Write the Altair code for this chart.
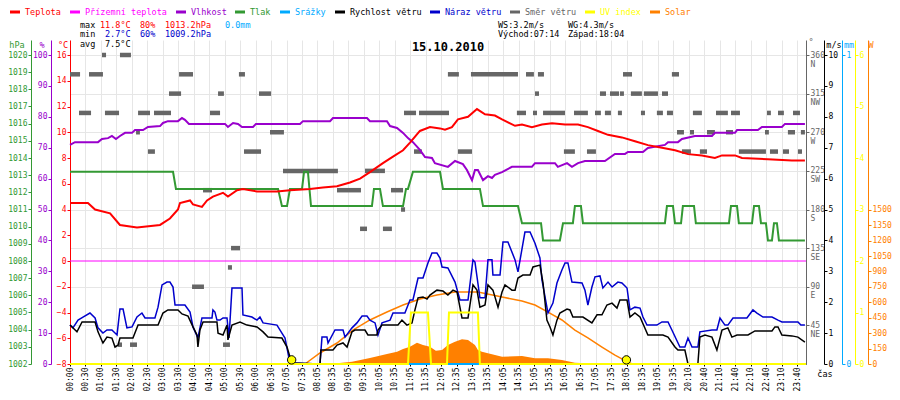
import json
import altair as alt
import pandas as pd

MONO = "DejaVu Sans Mono"

# ---------------- data (x = position among the time slots of the axis) ----------------
TIME_LABELS = ["00:00", "00:30", "01:00", "01:30", "02:00", "02:30", "03:00", "03:30",
               "04:00", "04:30", "05:00", "05:30", "06:00", "06:30", "07:05", "07:35",
               "08:05", "08:35", "09:05", "09:35", "10:05", "10:35", "11:05", "11:35",
               "12:05", "12:35", "13:05", "13:35", "14:05", "14:35", "15:05", "15:35",
               "16:05", "16:35", "17:05", "17:35", "18:05", "18:35", "19:05", "19:35",
               "20:10", "20:40", "21:10", "21:40", "22:10", "22:40", "23:10", "23:40"]
X_MAX = 47.58

TEMP = [(0.00, 4.5), (1.16, 4.5), (1.62, 4.0), (2.59, 3.7), (3.23, 2.8), (4.33, 2.6), (5.82, 2.8),
        (6.46, 3.3), (6.98, 4.0), (7.11, 4.5), (7.76, 4.7), (7.95, 4.4), (8.53, 4.2), (8.86, 4.7),
        (9.24, 5.0), (9.89, 5.3), (10.21, 5.0), (10.80, 5.5), (11.18, 5.6), (12.09, 5.4), (13.38, 5.4),
        (14.22, 5.5), (15.51, 5.6), (16.35, 5.7), (17.26, 5.8), (18.10, 6.1), (18.75, 6.4), (19.39, 6.9),
        (20.23, 7.6), (20.88, 8.1), (21.53, 8.6), (21.98, 9.2), (22.62, 10.1), (23.27, 10.4),
        (23.92, 10.3), (24.24, 10.2), (24.69, 10.4), (25.08, 11.0), (25.73, 11.2), (26.31, 11.8),
        (26.83, 11.4), (27.47, 11.3), (27.93, 11.0), (28.77, 10.5), (29.22, 10.6), (29.86, 10.4),
        (30.51, 10.6), (31.16, 10.7), (32.00, 10.6), (32.84, 10.6), (33.48, 10.4), (34.13, 10.1),
        (34.78, 9.8), (35.68, 9.6), (36.52, 9.3), (37.36, 9.0), (38.27, 8.8), (39.11, 8.6),
        (39.95, 8.3), (40.85, 8.2), (41.69, 8.0), (42.15, 8.2), (42.99, 8.2), (43.44, 8.0),
        (45.12, 7.9), (46.67, 7.8), (47.51, 7.8)]

GROUND_TEMP = [(0.00, 0.0), (X_MAX, 0.0)]

HUMIDITY = [(0.00, 70.9), (0.32, 71.8), (1.81, 71.8), (2.07, 72.8), (2.46, 73.1), (2.71, 73.8),
            (2.97, 72.8), (3.23, 73.8), (3.56, 74.8), (4.01, 74.8), (4.20, 75.7), (4.72, 75.7),
            (5.04, 76.7), (5.82, 77.0), (6.01, 78.0), (6.33, 78.6), (6.98, 78.6), (7.24, 79.6),
            (7.43, 79.0), (7.69, 77.7), (10.02, 77.7), (10.21, 76.7), (10.54, 78.0), (10.86, 77.7),
            (11.12, 76.7), (11.83, 76.7), (12.02, 77.7), (14.87, 77.7), (15.06, 78.6), (16.81, 78.6),
            (17.00, 79.6), (19.20, 79.6), (19.39, 78.6), (20.49, 78.6), (20.69, 77.0), (21.14, 76.4),
            (21.53, 74.8), (21.85, 73.1), (22.17, 71.8), (22.62, 69.3), (22.95, 67.0), (23.40, 66.7),
            (23.59, 65.0), (24.43, 63.8), (24.89, 65.7), (25.40, 64.7), (25.66, 62.8), (25.99, 59.5),
            (26.18, 62.8), (26.37, 62.8), (26.70, 59.5), (27.02, 60.8), (27.28, 60.2), (27.47, 61.2),
            (27.93, 62.1), (28.57, 63.8), (29.86, 63.8), (30.06, 65.0), (31.35, 65.0), (31.54, 63.8),
            (32.13, 65.0), (32.45, 63.8), (32.84, 65.0), (33.29, 65.7), (34.58, 65.7), (35.23, 68.0),
            (35.88, 68.0), (36.07, 68.6), (37.04, 68.6), (37.36, 69.9), (38.46, 70.9), (38.66, 71.8),
            (39.30, 71.8), (39.56, 72.8), (40.40, 73.8), (41.50, 73.8), (41.69, 74.8), (42.99, 74.8),
            (43.12, 75.7), (44.47, 75.7), (44.73, 76.7), (46.02, 76.7), (46.22, 77.7), (47.51, 77.7)]

PRESSURE = [(0.00, 1013.2), (6.66, 1013.2), (6.85, 1012.2), (13.45, 1012.2), (13.70, 1011.2),
            (14.03, 1011.2), (14.22, 1012.2), (15.00, 1012.2), (15.13, 1013.2), (15.38, 1013.2),
            (15.58, 1011.2), (19.52, 1011.2), (19.65, 1012.2), (20.04, 1012.2), (20.23, 1011.2),
            (21.53, 1011.2), (21.72, 1012.2), (21.85, 1012.2), (22.17, 1013.2), (23.92, 1013.2),
            (24.11, 1012.2), (26.50, 1012.2), (26.70, 1011.2), (28.96, 1011.2), (29.22, 1010.2),
            (30.45, 1010.2), (30.58, 1009.2), (31.67, 1009.2), (31.87, 1010.2), (32.51, 1010.2),
            (32.64, 1011.2), (33.03, 1011.2), (33.16, 1010.2), (38.46, 1010.2), (38.59, 1011.2),
            (38.98, 1011.2), (39.11, 1010.2), (39.50, 1010.2), (39.62, 1011.2), (40.34, 1011.2),
            (40.46, 1010.2), (42.60, 1010.2), (42.73, 1011.2), (43.12, 1011.2), (43.24, 1010.2),
            (44.09, 1010.2), (44.22, 1011.2), (44.54, 1011.2), (44.67, 1010.2), (44.99, 1010.2),
            (45.12, 1009.2), (45.38, 1009.2), (45.51, 1010.2), (45.70, 1010.2), (45.83, 1009.2),
            (47.51, 1009.2)]

RAIN = [(0.00, 0.0), (X_MAX, 0.0)]

WIND = [(0.00, 1.26), (0.45, 1.04), (0.78, 1.36), (1.62, 1.36), (1.81, 1.04), (2.13, 0.68), (2.39, 0.87),
        (2.71, 0.84), (2.91, 0.55), (3.10, 0.61), (3.23, 0.84), (4.07, 0.84), (4.40, 1.26), (5.69, 1.26),
        (6.01, 1.65), (6.33, 1.75), (6.98, 1.75), (7.24, 1.62), (7.63, 1.55), (7.95, 1.20), (8.21, 0.94),
        (8.27, 0.55), (8.40, 1.10), (8.60, 1.36), (9.50, 1.36), (9.57, 1.00), (9.89, 0.94), (10.15, 1.26),
        (10.21, 0.78), (10.47, 1.26), (10.99, 1.36), (11.44, 1.26), (12.09, 1.20), (12.48, 1.04),
        (12.80, 0.87), (13.70, 0.84), (14.03, 0.55), (14.22, 0.23), (14.35, 0.03), (16.16, 0.0),
        (16.22, 0.45), (17.00, 0.45), (17.26, 0.61), (17.65, 0.68), (17.91, 0.55), (18.23, 1.04),
        (18.42, 1.10), (19.07, 1.10), (19.26, 0.94), (19.84, 0.94), (19.91, 1.10), (20.17, 1.26),
        (21.20, 1.26), (21.46, 1.42), (21.78, 1.26), (22.11, 1.33), (22.30, 1.75), (22.50, 2.14),
        (22.82, 2.17), (23.08, 2.10), (23.27, 2.23), (23.72, 2.39), (24.11, 2.36), (24.43, 2.23),
        (24.76, 2.39), (25.02, 2.33), (25.34, 1.49), (25.73, 1.49), (26.05, 2.56), (26.31, 2.39),
        (26.50, 1.84), (26.83, 1.91), (27.02, 2.56), (27.34, 2.39), (27.67, 1.84), (27.93, 2.33),
        (28.12, 2.56), (28.57, 2.39), (28.77, 2.39), (28.96, 2.78), (29.28, 2.88), (29.74, 2.88),
        (29.93, 3.14), (30.38, 3.20), (30.58, 2.62), (30.83, 1.42), (31.03, 1.20), (31.22, 0.94),
        (31.48, 1.42), (31.67, 1.65), (32.13, 1.78), (32.32, 1.75), (32.51, 1.52), (33.16, 1.52),
        (33.74, 1.33), (34.07, 1.59), (34.39, 1.59), (34.71, 1.91), (35.04, 1.97), (35.36, 1.81),
        (35.55, 2.07), (36.01, 2.07), (36.20, 1.52), (36.52, 1.65), (36.85, 1.52), (37.36, 0.94),
        (38.33, 0.94), (38.66, 0.87), (39.11, 0.55), (39.30, 0.45), (39.75, 0.45), (39.95, 0.0),
        (40.59, 0.0), (40.72, 0.87), (41.05, 0.94), (41.50, 0.87), (41.82, 0.45), (42.15, 1.10),
        (42.53, 1.17), (42.79, 0.87), (43.12, 0.94), (43.83, 0.94), (44.28, 1.07), (45.38, 1.07),
        (45.57, 1.20), (45.77, 1.20), (46.02, 0.94), (46.67, 0.91), (47.06, 0.87), (47.51, 0.71)]

GUST = [(0.00, 1.26), (0.19, 1.17), (0.52, 1.42), (0.84, 1.52), (1.29, 1.65), (1.62, 1.49), (1.81, 1.17),
        (2.13, 1.00), (2.39, 1.10), (2.71, 1.10), (3.04, 0.94), (3.23, 1.78), (3.43, 1.78), (3.68, 1.17),
        (4.01, 1.20), (4.33, 1.52), (4.65, 1.65), (4.85, 1.49), (5.49, 1.49), (5.69, 1.84), (5.95, 2.56),
        (6.27, 2.65), (6.46, 2.65), (6.66, 2.49), (6.79, 1.91), (7.43, 1.91), (7.76, 1.68), (7.95, 1.20),
        (8.27, 0.84), (8.53, 1.49), (9.18, 1.49), (9.24, 1.75), (9.37, 1.68), (9.50, 1.42), (9.70, 1.42),
        (9.89, 1.49), (10.15, 1.49), (10.28, 0.84), (10.47, 2.46), (11.12, 2.46), (11.18, 1.59),
        (11.76, 1.52), (12.09, 1.42), (12.28, 1.52), (12.48, 1.33), (13.38, 1.26), (13.70, 1.00),
        (13.90, 0.84), (14.09, 0.36), (14.22, 0.06), (14.35, 0.03), (16.16, 0.0), (16.29, 0.87),
        (16.61, 0.87), (16.68, 0.68), (17.13, 1.10), (17.65, 1.10), (17.78, 0.87), (18.23, 1.17),
        (18.55, 1.33), (18.88, 1.55), (19.20, 1.55), (19.39, 1.42), (19.72, 1.33), (19.91, 0.94),
        (20.17, 1.33), (20.69, 1.42), (20.88, 1.65), (21.65, 1.65), (21.98, 2.07), (22.17, 2.07),
        (22.50, 2.78), (22.82, 2.78), (23.14, 3.27), (23.40, 3.59), (23.72, 3.59), (23.92, 3.43),
        (24.05, 3.14), (24.43, 3.11), (24.89, 2.65), (25.21, 2.07), (25.73, 2.07), (26.05, 3.37),
        (26.18, 3.30), (26.50, 2.14), (26.83, 2.14), (27.02, 3.37), (27.28, 3.37), (27.34, 2.88),
        (27.80, 2.88), (27.99, 3.95), (28.31, 3.95), (28.77, 3.37), (28.96, 2.98), (29.41, 4.27),
        (29.74, 4.27), (30.06, 3.91), (30.38, 3.43), (30.51, 2.72), (30.90, 1.65), (31.22, 1.97),
        (31.48, 2.62), (31.80, 3.04), (32.00, 3.27), (32.19, 3.27), (32.45, 2.65), (33.10, 2.62),
        (33.29, 2.39), (33.48, 1.91), (33.74, 2.49), (33.94, 2.82), (34.26, 2.85), (34.45, 2.46),
        (34.78, 2.65), (35.04, 2.49), (35.42, 2.65), (35.68, 2.62), (36.01, 2.46), (36.20, 1.75),
        (36.52, 1.84), (36.85, 1.81), (37.04, 1.52), (37.30, 1.26), (37.94, 1.26), (38.27, 1.36),
        (38.66, 1.36), (38.91, 1.10), (39.43, 0.55), (39.75, 0.55), (39.95, 0.84), (40.21, 0.55),
        (40.59, 0.55), (40.72, 1.04), (41.50, 1.10), (41.82, 1.10), (42.02, 1.49), (42.34, 1.26),
        (42.53, 1.26), (42.86, 1.49), (43.76, 1.49), (44.15, 1.75), (44.41, 1.65), (44.80, 1.52),
        (45.38, 1.52), (45.77, 1.42), (46.02, 1.36), (47.06, 1.36), (47.25, 1.26), (47.51, 1.26)]

# wind direction: (from slot, to slot, degrees)
DIRECTION = [(2.07, 2.33, 360), (3.23, 3.94, 360),
             (0.00, 0.65, 337.5), (1.23, 2.13, 337.5), (7.05, 7.95, 337.5), (10.92, 11.31, 337.5),
             (24.43, 25.14, 337.5), (25.92, 28.96, 337.5), (29.48, 29.99, 337.5), (30.25, 30.64, 337.5),
             (35.75, 36.33, 337.5), (38.91, 39.37, 337.5),
             (6.40, 7.18, 315), (9.57, 9.95, 315), (12.22, 13.00, 315), (30.06, 30.32, 315),
             (34.26, 34.65, 315), (34.91, 35.49, 315), (35.55, 35.81, 315), (36.26, 36.97, 315),
             (37.10, 38.01, 315), (38.27, 38.66, 315),
             (0.58, 1.36, 292.5), (2.26, 3.17, 292.5), (4.40, 5.17, 292.5), (5.43, 6.53, 292.5),
             (9.05, 9.70, 292.5), (21.59, 22.37, 292.5), (22.56, 24.50, 292.5), (28.89, 29.48, 292.5),
             (29.93, 30.19, 292.5), (30.58, 32.00, 292.5), (32.58, 33.48, 292.5), (33.94, 34.32, 292.5),
             (34.58, 34.97, 292.5), (35.42, 35.68, 292.5), (36.91, 37.17, 292.5), (37.94, 38.33, 292.5),
             (38.59, 38.98, 292.5), (40.27, 40.85, 292.5), (41.76, 42.53, 292.5), (42.73, 43.31, 292.5),
             (45.06, 45.31, 292.5), (45.77, 46.15, 292.5), (46.74, 47.19, 292.5),
             (4.27, 4.52, 270), (12.93, 13.83, 270), (39.24, 39.69, 270), (40.08, 40.34, 270),
             (41.18, 41.69, 270), (42.41, 42.86, 270), (44.93, 45.18, 270), (46.41, 46.87, 270),
             (47.25, 47.51, 270),
             (5.04, 5.49, 247.5), (11.25, 12.35, 247.5), (22.24, 22.75, 247.5), (25.08, 25.99, 247.5),
             (31.93, 32.64, 247.5), (33.42, 34.00, 247.5), (39.56, 40.14, 247.5), (40.72, 41.18, 247.5),
             (43.24, 44.99, 247.5), (45.25, 45.77, 247.5), (46.09, 46.48, 247.5), (47.06, 47.32, 247.5),
             (13.77, 17.32, 225), (19.07, 20.36, 225),
             (8.60, 9.18, 202.5), (17.26, 18.81, 202.5), (20.75, 21.53, 202.5),
             (21.40, 21.66, 180),
             (18.75, 19.20, 157.5), (20.23, 20.81, 157.5),
             (10.41, 10.99, 135),
             (10.21, 10.47, 112.5),
             (7.89, 8.66, 90),
             (3.10, 3.36, 22.5), (3.88, 4.33, 22.5), (9.89, 10.34, 22.5)]

UV = [(0.00, 0), (21.85, 0), (22.04, 1), (23.14, 1), (23.34, 0), (24.37, 0), (24.50, 1),
      (26.37, 1), (26.50, 0), (X_MAX, 0)]

SOLAR = [(15.19, 0), (17.26, 7), (18.23, 22), (19.39, 58), (20.49, 97), (21.14, 120), (21.53, 146),
         (21.98, 168), (22.43, 207), (22.82, 185), (23.27, 168), (23.65, 128), (24.05, 136),
         (24.43, 185), (24.89, 217), (25.34, 240), (25.73, 233), (26.18, 185), (26.37, 136),
         (26.63, 120), (27.02, 104), (27.93, 71), (29.22, 78), (30.06, 55), (30.90, 55),
         (31.80, 39), (32.64, 13), (34.39, 0)]

SOLAR_MAX = [(15.19, 0), (16.16, 107), (17.26, 204), (18.29, 330), (19.39, 428), (20.49, 505),
             (21.53, 573), (22.62, 632), (23.72, 671), (24.89, 700), (26.37, 700), (27.93, 651),
             (29.22, 612), (30.06, 573), (30.90, 505), (31.80, 428), (32.64, 330), (33.48, 253),
             (34.39, 165), (35.23, 87), (36.07, 19), (36.33, 0)]

SUN_EVENTS = [(14.33, 40), (35.97, 40)]   # sunrise 07:14, sunset 18:04

DATE = "15.10.2010"
STATS_MAX = ["11.8°C", "80%", "1013.2hPa", "0.0mm"]
STATS_MIN = ["2.7°C", "60%", "1009.2hPa"]
STATS_AVG = ["7.5°C"]
WIND_STATS = ["WS:3.2m/s", "WG:4.3m/s"]
SUN_STATS = ["Východ:07:14", "Západ:18:04"]
LEGEND = [("Teplota", "#ff0000"), ("Přízemní teplota", "#ff00ff"), ("Vlhkost", "#9900cc"),
          ("Tlak", "#339933"), ("Srážky", "#00aaff"), ("Rychlost větru", "#000000"),
          ("Náraz větru", "#0000cc"), ("Směr větru", "#666666"), ("UV index", "#ffff00"),
          ("Solar", "#ff8000")]
DIR_NAMES = ["", "NE", "E", "SE", "S", "SW", "W", "NW", "N"]

# ---------------- styling ----------------
RED, MAG, PUR, GRN, CYA = "#ff0000", "#ff00ff", "#9900cc", "#339933", "#00aaff"
BLK, BLU, GRY, YEL, ORA = "#000000", "#0000cc", "#666666", "#ffff00", "#ff8000"
PW, PH = 736, 324
EXT = 324 / 309.0          # value scales end 15 px below the top of the plot area

D_T = [-8, -8 + 24 * EXT]
D_H = [0, 100 * EXT]
D_P = [1002, 1002 + 18 * EXT]
D_D = [0, 360 * EXT]
D_WS = [0, 10 * EXT]
D_MM = [0, 1 * EXT]
D_UV = [0, 6 * EXT]
D_W = [0, 3150]


def sc(dom):
    return alt.Scale(domain=dom, nice=False, zero=False)


X_AXIS = alt.Axis(values=list(range(len(TIME_LABELS))),
                  labelExpr=json.dumps(TIME_LABELS) + "[datum.value]",
                  labelAngle=270, labelFont=MONO, labelFontSize=8, labelColor=BLK,
                  tickColor=BLK, tickSize=2, labelPadding=1, domainColor=BLK,
                  grid=True, gridColor="#e6e6e6", gridWidth=1, title=None,
                  labelFlush=False, labelOverlap=False)


def X(field="s", axis=None):
    return alt.X(f"{field}:Q", scale=sc([0, X_MAX]), axis=axis)


def yaxis(orient, offset, values, color, **kw):
    d = dict(orient=orient, offset=offset, values=values, title=None, grid=False,
             labelColor=color, tickColor=color, domainColor=color, labelFont=MONO,
             labelFontSize=8, tickSize=3, labelPadding=1, labelOverlap=False, format="d")
    d.update(kw)
    return alt.Axis(**d)


def series(data, color, dom, width, axis=None, kind="line"):
    df = pd.DataFrame(data, columns=["s", "v"])
    if kind == "area":
        mark = alt.Chart(df).mark_area(color=color, opacity=1, interpolate="linear")
    else:
        mark = alt.Chart(df).mark_line(color=color, strokeWidth=width, interpolate="linear")
    return mark.encode(x=X(), y=alt.Y("v:Q", scale=sc(dom), axis=axis))


dir_df = pd.DataFrame(DIRECTION, columns=["s", "e", "deg"])
dir_axis = yaxis("right", 0, list(range(45, 361, 45)), GRY, grid=True, gridColor="#e6e6e6",
                 labelExpr="[datum.label, " + json.dumps(DIR_NAMES) + "[round(datum.value/45)]]",
                 labelBaseline="top", labelOffset=-4, labelLineHeight=9)
dir_layer = alt.Chart(dir_df).mark_rule(color=GRY, strokeWidth=4.5).encode(
    x=X("s", X_AXIS), x2="e:Q", y=alt.Y("deg:Q", scale=sc(D_D), axis=dir_axis))

solar_area = series(SOLAR, ORA, D_W, 1, yaxis("right", 62, list(range(0, 1501, 150)), ORA), kind="area")
solar_max = series(SOLAR_MAX, ORA, D_W, 1.5)
pressure = series(PRESSURE, GRN, D_P, 2, yaxis("left", 39, list(range(1002, 1021)), GRN))
humidity = series(HUMIDITY, PUR, D_H, 2, yaxis("left", 19, list(range(0, 101, 10)), PUR))
ground = series(GROUND_TEMP, MAG, D_T, 1)
temp = series(TEMP, RED, D_T, 2, yaxis("left", 0, list(range(-8, 17, 2)), RED))
gust = series(GUST, BLU, D_WS, 1.5)
wind = series(WIND, BLK, D_WS, 1.5, yaxis("right", 18, list(range(0, 11)), BLK))
rain = series(RAIN, CYA, D_MM, 2, yaxis("right", 36, [0, 1], CYA))
uv = series(UV, YEL, D_UV, 2, yaxis("right", 49, list(range(0, 7)), YEL))

sun_df = pd.DataFrame(SUN_EVENTS, columns=["s", "v"])
sun = alt.Chart(sun_df).mark_point(shape="circle", size=70, fill=YEL, fillOpacity=1,
                                   stroke=BLK, strokeWidth=1, opacity=1).encode(
    x=X(), y=alt.Y("v:Q", scale=sc(D_W), axis=None))


def texts(rows, align="left", size=8.5, bold=False):
    df = pd.DataFrame(rows, columns=["t", "px", "py", "c"])
    return alt.Chart(df).mark_text(align=align, baseline="middle", font=MONO, fontSize=size,
                                   fontWeight="bold" if bold else "normal").encode(
        x=alt.X("px:Q", scale=None, axis=None), y=alt.Y("py:Q", scale=None, axis=None),
        text="t:N", color=alt.Color("c:N", scale=None))


# legend (positions relative to the plot origin)
leg_x = [-60, 0, 106, 165, 210, 265, 360, 440, 515, 580]
leg_rules = pd.DataFrame([(x, x + 10, -28, c) for x, (_, c) in zip(leg_x, LEGEND)],
                         columns=["px", "px2", "py", "c"])
legend_marks = alt.Chart(leg_rules).mark_rule(strokeWidth=3).encode(
    x=alt.X("px:Q", scale=None, axis=None), x2="px2:Q",
    y=alt.Y("py:Q", scale=None, axis=None), color=alt.Color("c:N", scale=None))
legend_text = texts([(t, x + 15, -28, c) for x, (t, c) in zip(leg_x, LEGEND)])

header = texts([
    ("max", 10, -15, BLK), (STATS_MAX[0], 30, -15, RED), (STATS_MAX[1], 70, -15, RED),
    (STATS_MAX[2], 95, -15, RED), (STATS_MAX[3], 155, -15, CYA),
    ("min", 10, -6, BLK), (STATS_MIN[0], 35, -6, BLU), (STATS_MIN[1], 70, -6, BLU),
    (STATS_MIN[2], 95, -6, BLU),
    ("avg", 10, 4, BLK), (STATS_AVG[0], 35, 4, BLK),
    (WIND_STATS[0], 428, -15, BLK), (WIND_STATS[1], 498, -15, BLK),
    (SUN_STATS[0], 428, -6, BLK), (SUN_STATS[1], 498, -6, BLK),
])
axis_titles = texts([
    ("hPa", -53, 5, GRN), ("%", -28, 5, PUR), ("°C", -7, 5, RED), ("°", 741, 2, GRY),
    ("m/s", 764, 5, BLK), ("mm", 779, 5, CYA), ("W", 801, 5, ORA), ("čas", 755, 334, BLK),
], align="center")
title = texts([(DATE, 378, 7, BLK)], align="center", size=12, bold=True)

chart = alt.layer(
    dir_layer, solar_area, solar_max, pressure, humidity, ground, temp, gust, wind, rain, uv, sun,
    legend_marks, legend_text, header, axis_titles, title
).resolve_scale(x="independent", y="independent", color="independent").properties(
    width=PW, height=PH,
    padding={"left": 62, "top": 32, "right": 86, "bottom": 28},
    autosize=alt.AutoSizeParams(type="none"),
    background="white",
).configure_view(stroke=None)

chart.save("out.html", embed_options={"renderer": "svg", "actions": False})
